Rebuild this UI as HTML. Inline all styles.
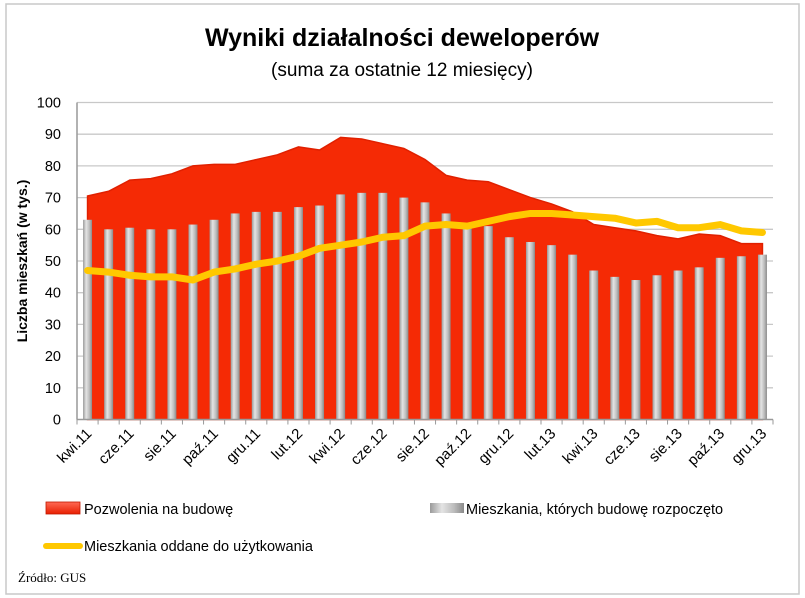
<!DOCTYPE html>
<html><head><meta charset="utf-8"><style>
body{margin:0;background:#fff;}
#wrap{position:relative;width:805px;height:598px;overflow:hidden;font-family:"Liberation Sans",sans-serif;}
</style></head><body>
<div id="wrap">
<svg id="chart" width="805" height="598">
<defs>
<linearGradient id="barg" x1="0" x2="1" y1="0" y2="0">
<stop offset="0" stop-color="#9a9a9a"/><stop offset="0.35" stop-color="#e4e4e4"/><stop offset="0.7" stop-color="#bdbdbd"/><stop offset="1" stop-color="#8a8a8a"/>
</linearGradient>
<linearGradient id="legr" x1="0" x2="0" y1="0" y2="1"><stop offset="0" stop-color="#ff6a55"/><stop offset="1" stop-color="#e81e00"/></linearGradient>
</defs>
<rect x="6" y="4" width="793" height="590" fill="#fff" stroke="#c8c8c8" stroke-width="1.5"/>
<text x="402" y="46" text-anchor="middle" font-size="25" font-weight="bold" fill="#000">Wyniki działalności deweloperów</text>
<text x="402" y="76" text-anchor="middle" font-size="19" fill="#000">(suma za ostatnie 12 miesięcy)</text>
<text transform="translate(27,261) rotate(-90)" text-anchor="middle" font-size="14" font-weight="bold">Liczba mieszkań (w tys.)</text>
<g id="grid"></g><g id="area"></g><g id="bars"></g><g id="line"></g><g id="axes"></g>
<rect x="46" y="502" width="34" height="12" fill="url(#legr)" stroke="#c01800" stroke-width="0.8"/>
<text x="84" y="514" font-size="14.5">Pozwolenia na budowę</text>
<rect x="430" y="503" width="34" height="10" fill="url(#barg)"/>
<text x="466" y="514" font-size="14.5">Mieszkania, których budowę rozpoczęto</text>
<line x1="46" y1="546" x2="80" y2="546" stroke="#ffc800" stroke-width="6" stroke-linecap="round"/>
<text x="84" y="551" font-size="14.5">Mieszkania oddane do użytkowania</text>
<text x="18" y="582" font-size="13" font-family="Liberation Serif,serif">Źródło: GUS</text>
</svg>
</div>
<script>
const tickLabels=["kwi.11","cze.11","sie.11","paź.11","gru.11","lut.12","kwi.12","cze.12","sie.12","paź.12","gru.12","lut.13","kwi.13","cze.13","sie.13","paź.13","gru.13"];
const yTicks=[0,10,20,30,40,50,60,70,80,90,100];
const permits=[70.5,72,75.5,76,77.5,80,80.5,80.5,82,83.5,86,85,89,88.5,87,85.5,82,77,75.5,75,72.5,70,68,65.5,61.5,60.5,59.5,58,57,58.5,58,55.5,55.5];
const started=[63,60,60.5,60,60,61.5,63,65,65.5,65.5,67,67.5,71,71.5,71.5,70,68.5,65,61,61,57.5,56,55,52,47,45,44,45.5,47,48,51,51.5,52];
const completed=[47,46.5,45.5,45,45,44,46.5,47.5,49,50,51.5,54,55,56,57.5,58,61,61.5,61,62.5,64,65,65,64.5,64,63.5,62,62.5,60.5,60.5,61.5,59.5,59];
const NS='http://www.w3.org/2000/svg';
const X0=77,X1=773,Y0=419.5,Y100=102.5,n=permits.length,cw=(X1-X0)/n;
const xc=i=>X0+cw*(i+0.5);
const y=v=>Y0-(Y0-Y100)*v/100;
function mk(t,a,p){const e=document.createElementNS(NS,t);for(const k in a)e.setAttribute(k,a[k]);p.appendChild(e);return e;}
const grid=document.getElementById('grid'),axes=document.getElementById('axes');
yTicks.forEach(v=>{
 if(v>0){const l=mk('line',{x1:X0,x2:X1,y1:y(v),y2:y(v),stroke:'#c8c8c8','stroke-width':1.3},grid);
 
 }
 const t=mk('text',{x:X0-16,y:y(v)+5,'text-anchor':'end','font-size':14.5},axes);t.textContent=v;
 
 
});
let d='M'+xc(0)+','+y(0);
permits.forEach((v,i)=>d+=' L'+xc(i)+','+y(v));
d+=' L'+xc(n-1)+','+y(0)+'Z';
const ar=mk('path',{d:d,fill:'#f52a05',stroke:'#e02000','stroke-width':1.5},document.getElementById('area'));


const bars=document.getElementById('bars');
started.forEach((v,i)=>{
 const b=mk('rect',{x:xc(i)-4.5,y:y(v),width:9,height:y(0)-y(v),fill:'url(#barg)'},bars);
 
 
});
const ln=mk('polyline',{points:completed.map((v,i)=>xc(i)+','+y(v)).join(' '),fill:'none',stroke:'#ffc800','stroke-width':7,'stroke-linejoin':'round','stroke-linecap':'round'},document.getElementById('line'));


mk('line',{x1:X0,x2:X0,y1:Y100,y2:Y0,stroke:'#999','stroke-width':1.5},axes);
mk('line',{x1:X0,x2:X1,y1:Y0,y2:Y0,stroke:'#999','stroke-width':1.5},axes);
for(let i=0;i<=n;i++)mk('line',{x1:X0+cw*i,x2:X0+cw*i,y1:Y0,y2:Y0+5,stroke:'#999'},axes);
tickLabels.forEach((s,k)=>{
 const i=k*2,x=xc(i)+5,yy=Y0+15;
 const t=mk('text',{x:x,y:yy,'text-anchor':'end','font-size':15,transform:'rotate(-45 '+x+' '+yy+')'},axes);
 t.textContent=s;
 
 
});
</script>
</body></html>
